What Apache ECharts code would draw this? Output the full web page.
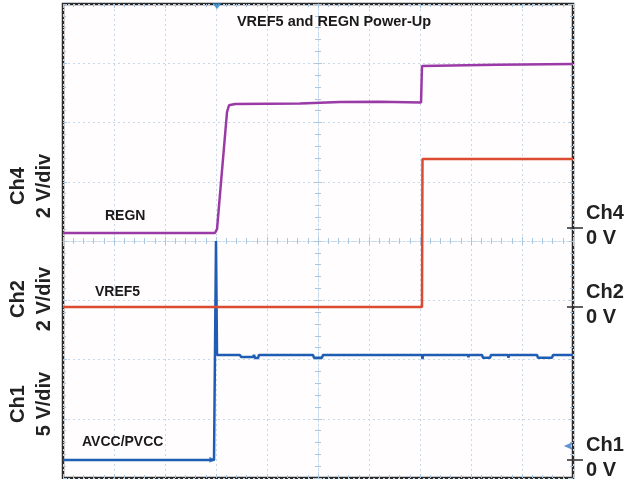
<!DOCTYPE html>
<html>
<head>
<meta charset="utf-8">
<script src="https://cdn.jsdelivr.net/npm/echarts@6/dist/echarts.min.js"></script>
<style>
html,body{margin:0;padding:0;background:#fff;}
#c{width:628px;height:479px;}
</style>
</head>
<body>
<div id="c"></div>
<script>
// Values are in screen divisions (10 horizontal x 8 vertical), read from the scope capture
const avccX = [0, 2.961, 3.0, 3.0, 3.02, 3.47, 3.49, 3.725, 3.745, 3.765, 3.824, 3.843, 4.902, 4.922, 5.078, 5.098, 7.039, 7.049, 7.059, 7.941, 7.951, 7.961, 8.216, 8.235, 8.373, 8.392, 8.725, 8.735, 8.745, 9.294, 9.314, 9.588, 9.608, 10];
const avccY = [0.304, 0.304, 0.304, 4.0, 2.076, 2.076, 2.042, 2.042, 2.076, 2.025, 2.025, 2.076, 2.076, 2.030, 2.030, 2.076, 2.076, 2.008, 2.076, 2.076, 2.040, 2.076, 2.076, 2.030, 2.030, 2.076, 2.076, 2.030, 2.076, 2.076, 2.030, 2.030, 2.076, 2.076];

const vref5X = [0, 7.039, 7.049, 10];
const vref5Y = [2.886, 2.886, 5.384, 5.384];

const regnX = [0, 2.98, 3.02, 3.216, 3.255, 3.373, 4.647, 5.431, 6.2, 7.02, 7.039, 8.5, 10];
const regnY = [4.135, 4.135, 4.20, 6.177, 6.290, 6.312, 6.321, 6.346, 6.350, 6.338, 6.954, 6.975, 6.987];

const zeroLevels = [4.219, 2.886, 0.304];
const zeroNames = ['Ch4', 'Ch2', 'Ch1'];
const scaleLabels = ['Ch4\n2 V/div', 'Ch2\n2 V/div', 'Ch1\n5 V/div'];
const traceNames = ['REGN', 'VREF5', 'AVCC/PVCC'];
const titleText = 'VREF5 and REGN Power-Up';
const triggerMark = [[3.02, 7.96]];
const ch1Marker = [[9.82, 0.54]];
const avccArrow = [[2.93, 0.31]];

const zip = (xs, ys) => xs.map((x, i) => [x, ys[i]]);

const FONT = '"Liberation Sans", Arial, sans-serif';
const gridColor = '#c6d9ea';
const tickColor = '#a9c7e0';

function baseX(extra) {
  return Object.assign({
    type: 'value', min: 0, max: 10, interval: 1,
    axisLine: { show: false, onZero: false },
    axisLabel: { show: false },
    splitLine: { show: false },
    axisTick: { show: true, inside: true, length: 4, lineStyle: { color: tickColor } },
    minorTick: { show: true, splitNumber: 5, length: 3, lineStyle: { color: tickColor } }
  }, extra);
}
function baseY(extra) {
  return Object.assign({
    type: 'value', min: 0, max: 8, interval: 1,
    axisLine: { show: false, onZero: false },
    axisLabel: { show: false },
    splitLine: { show: false },
    axisTick: { show: true, inside: true, length: 4, lineStyle: { color: tickColor } },
    minorTick: { show: true, splitNumber: 5, length: 3, lineStyle: { color: tickColor } }
  }, extra);
}

function nearestName(v) {
  let best = 0;
  for (let i = 1; i < zeroLevels.length; i++) {
    if (Math.abs(zeroLevels[i] - v) < Math.abs(zeroLevels[best] - v)) best = i;
  }
  return zeroNames[best];
}

const chart = echarts.init(document.getElementById('c'), null, { renderer: 'canvas' });

const option = {
  animation: false,
  backgroundColor: '#ffffff',
  grid: { left: 63, top: 4, width: 510, height: 474, show: true, borderColor: '#2b2b2b', borderWidth: 2.5, backgroundColor: '#fffdfd', containLabel: false, outerBoundsMode: 'none' },
  xAxis: [
    baseX({ position: 'bottom', splitLine: { show: true, lineStyle: { color: gridColor, type: [2, 3], width: 1 } } }),
    baseX({ position: 'top' }),
    baseX({ position: 'bottom', offset: -237, axisLine: { show: true, onZero: false, lineStyle: { color: gridColor, width: 1, type: [2, 2] } } }),
    baseX({ position: 'top', offset: -237 })
  ],
  yAxis: [
    baseY({ position: 'left', splitLine: { show: true, lineStyle: { color: gridColor, type: [2, 3], width: 1 } } }),
    baseY({ position: 'right' }),
    baseY({ position: 'left', offset: -255, axisLine: { show: true, onZero: false, lineStyle: { color: gridColor, width: 1, type: [2, 2] } } }),
    baseY({ position: 'right', offset: -255 }),
    {
      type: 'value', min: 0, max: 8, position: 'right',
      axisLine: { show: false, onZero: false },
      splitLine: { show: false },
      axisTick: { show: true, inside: false, length: 10, customValues: zeroLevels, lineStyle: { color: '#2b2b2b', width: 1.5 } },
      axisLabel: {
        show: true, customValues: zeroLevels, margin: 13, padding: [0, 0, 5, 0],
        formatter: v => '{a|' + nearestName(v) + '}\n{a|0 V}',
        rich: { a: { fontFamily: FONT, fontWeight: 'bold', fontSize: 20, lineHeight: 25, color: '#222' } }
      }
    },
    {
      type: 'value', min: 0, max: 8, position: 'right',
      axisLine: { show: false, onZero: false },
      splitLine: { show: false },
      axisLabel: { show: false },
      axisTick: { show: true, inside: true, length: 6, customValues: zeroLevels, lineStyle: { color: '#2b2b2b', width: 1.5 } }
    }
  ],
  series: [
    {
      type: 'line', name: traceNames[2], data: zip(avccX, avccY), showSymbol: false, symbol: 'none',
      lineStyle: { color: '#1f5db5', width: 2.5 }, z: 3
    },
    {
      type: 'line', name: traceNames[1], data: zip(vref5X, vref5Y), showSymbol: false, symbol: 'none',
      lineStyle: { color: '#dc4a30', width: 2.5 }, z: 4
    },
    {
      type: 'line', name: traceNames[0], data: zip(regnX, regnY), showSymbol: false, symbol: 'none',
      lineStyle: { color: '#9a3aa6', width: 2.5 }, z: 5
    },
    {
      type: 'scatter', data: triggerMark, symbol: 'triangle', symbolRotate: 180, symbolSize: [9, 6],
      itemStyle: { color: '#2a8ad0' }, z: 6
    },
    {
      type: 'scatter', data: ch1Marker, symbol: 'arrow', symbolRotate: 90, symbolSize: [6, 9],
      itemStyle: { color: '#3a78c8' }, z: 6
    },
    {
      type: 'scatter', data: avccArrow, symbol: 'triangle', symbolRotate: -90, symbolSize: [6, 6],
      itemStyle: { color: '#1f5db5' }, z: 6
    }
  ],
  graphic: [
    { type: 'text', x: 334, y: 22, style: { text: titleText, textAlign: 'center', textVerticalAlign: 'middle', font: 'bold 14.5px ' + FONT, fill: '#1a1a1a' }, z: 10 },
    { type: 'text', x: 105, y: 216, style: { text: traceNames[0], textAlign: 'left', textVerticalAlign: 'middle', font: 'bold 14px ' + FONT, fill: '#1a1a1a' }, z: 10 },
    { type: 'text', x: 95, y: 292, style: { text: traceNames[1], textAlign: 'left', textVerticalAlign: 'middle', font: 'bold 14px ' + FONT, fill: '#1a1a1a' }, z: 10 },
    { type: 'text', x: 82, y: 442, style: { text: traceNames[2], textAlign: 'left', textVerticalAlign: 'middle', font: 'bold 14px ' + FONT, fill: '#1a1a1a' }, z: 10 },
    { type: 'text', x: 31, y: 186, rotation: Math.PI / 2, style: { text: scaleLabels[0], textAlign: 'center', textVerticalAlign: 'middle', font: 'bold 20px ' + FONT, lineHeight: 26, fill: '#222' }, z: 10 },
    { type: 'text', x: 31, y: 299, rotation: Math.PI / 2, style: { text: scaleLabels[1], textAlign: 'center', textVerticalAlign: 'middle', font: 'bold 20px ' + FONT, lineHeight: 26, fill: '#222' }, z: 10 },
    { type: 'text', x: 31, y: 404, rotation: Math.PI / 2, style: { text: scaleLabels[2], textAlign: 'center', textVerticalAlign: 'middle', font: 'bold 20px ' + FONT, lineHeight: 26, fill: '#222' }, z: 10 }
  ]
};
chart.setOption(option);
</script>
</body>
</html>
